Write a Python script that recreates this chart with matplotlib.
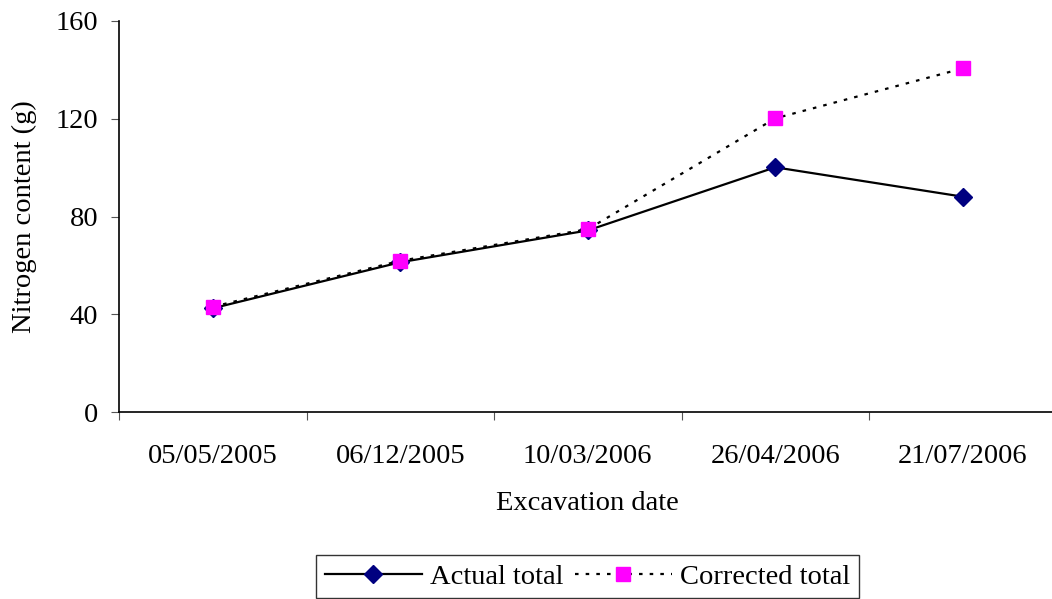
import matplotlib.pyplot as plt
from matplotlib.ticker import FixedLocator

dates = ["05/05/2005", "06/12/2005", "10/03/2006", "26/04/2006", "21/07/2006"]
actual_total = [42.5, 61.3, 74.3, 100.1, 88.1]
corrected_total = [43.1, 61.9, 74.8, 120.1, 140.5]
y_ticks = [0, 40, 80, 120, 160]

plt.rcParams['font.family'] = ['Liberation Serif', 'DejaVu Serif']
fs = 20.5

fig = plt.figure(figsize=(10.52, 5.99), dpi=100)
ax = fig.add_axes([119 / 1052, 186.7 / 599, 937.5 / 1052, 391.6 / 599])

x = list(range(len(dates)))
ax.plot(x, actual_total, '-', color='black', lw=1.6,
        marker='D', ms=9, mfc='#000080', mec='#000080', label='Actual total')
ax.plot(x, corrected_total, color='black', lw=1.6, ls=(0, (1.6, 3.2)),
        marker='s', ms=9.5, mfc='#ff00ff', mec='#ff00ff', label='Corrected total')

ax.set_xlim(-0.5, len(dates) - 0.5)
ax.set_ylim(0, 160)
ax.set_yticks(y_ticks)

# category labels at centres, tick marks at the category boundaries
ax.set_xticks(x)
ax.set_xticklabels(dates)
ax.xaxis.set_minor_locator(FixedLocator([i - 0.5 for i in range(len(dates) + 1)]))
ax.tick_params(axis='x', which='major', length=0, pad=23, labelsize=fs)
ax.tick_params(axis='x', which='minor', length=6, width=0.8, color='#555555', direction='out')
ax.tick_params(axis='y', length=6, width=0.8, color='#555555', direction='out', pad=9, labelsize=fs)

for side in ('top', 'right'):
    ax.spines[side].set_visible(False)
for side in ('left', 'bottom'):
    ax.spines[side].set_linewidth(1.2)

ax.set_xlabel('Excavation date', fontsize=fs, labelpad=16)
ax.set_ylabel('Nitrogen content (g)', fontsize=fs, labelpad=13)

leg = ax.legend(loc='center', bbox_to_anchor=(0.5, -0.42), ncol=2, fontsize=fs,
                frameon=True, fancybox=False, edgecolor='black', handlelength=3.4,
                handletextpad=0.3, columnspacing=0.4, borderpad=0.3)
leg.get_frame().set_linewidth(1.0)

fig.savefig('out.png', dpi=100)
